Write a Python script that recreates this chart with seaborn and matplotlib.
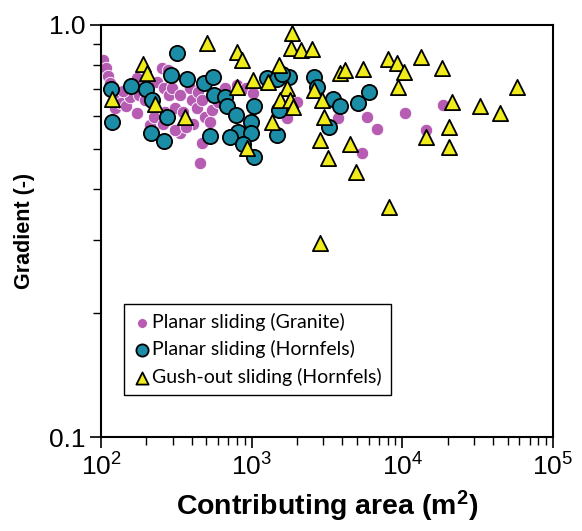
"""
Gradient vs contributing area for planar and gush-out slides (log-log scatter).
"""

import numpy as np
import pandas as pd
import matplotlib
matplotlib.use("Agg")
import matplotlib.pyplot as plt
import seaborn as sns
from matplotlib.ticker import LogLocator, NullFormatter, FixedLocator, FixedFormatter

# Planar sliding (Granite)
granite_area = [103, 108, 111, 115, 128, 124, 136, 146, 156, 173, 179, 173, 202, 211,
                225, 236, 254, 262, 283, 266, 258, 278, 296, 336, 310, 350, 336, 310,
                390, 402, 433, 440, 468, 490, 529, 545, 598, 468, 454, 664, 799, 917,
                1019, 408, 366, 1998, 1715, 3741, 5829, 6789, 10410, 18610, 14350, 5396,
                140, 196]
granite_grad = [0.822, 0.787, 0.752, 0.723, 0.676, 0.629, 0.647, 0.636, 0.668, 0.743, 0.676,
                0.612, 0.715, 0.572, 0.598, 0.727, 0.787, 0.703, 0.676, 0.615, 0.575, 0.778,
                0.703, 0.676, 0.629, 0.615, 0.547, 0.556, 0.703, 0.658, 0.629, 0.687, 0.658,
                0.598, 0.581, 0.622, 0.651, 0.518, 0.462, 0.703, 0.715, 0.703, 0.684, 0.575,
                0.565, 0.651, 0.594, 0.594, 0.598, 0.560, 0.612, 0.640, 0.556, 0.489,
                0.690, 0.658]

# Planar sliding (Hornfels)
hornfels_area = [320, 116, 118, 158, 199, 218, 274, 215, 262, 291, 372, 482, 554, 563, 664,
                 685, 787, 1035, 989, 811, 718, 989, 529, 875, 1035, 1263, 1472, 1768, 1517,
                 1472, 2592, 2713, 3259, 3464, 3855, 5076, 6006, 1589]
hornfels_grad = [0.856, 0.699, 0.581, 0.711, 0.699, 0.658, 0.598, 0.547, 0.523, 0.756, 0.739,
                 0.723, 0.748, 0.676, 0.668, 0.636, 0.605, 0.636, 0.581, 0.550, 0.535, 0.547,
                 0.538, 0.514, 0.478, 0.743, 0.739, 0.748, 0.622, 0.541, 0.748, 0.707, 0.565,
                 0.662, 0.636, 0.647, 0.687, 0.760]

# Gush-out sliding (Hornfels)
gush_area = [505, 799, 862, 190, 202, 119, 228, 360, 1019, 1282, 1517, 1851, 1823, 2124,
             2513, 1715, 1541, 1795, 1879, 1364, 799, 931, 2592, 2928, 3018, 2840, 3210,
             3855, 4162, 5478, 8029, 9211, 10250, 13290, 18330, 9353, 21340, 32740, 44490,
             57620, 20330, 14350, 20330, 4492, 4923, 8153, 2840]
gush_grad = [0.905, 0.860, 0.822, 0.804, 0.764, 0.662, 0.644, 0.598, 0.735, 0.727, 0.800,
             0.956, 0.879, 0.870, 0.874, 0.703, 0.658, 0.658, 0.633, 0.581, 0.707, 0.503,
             0.695, 0.658, 0.598, 0.526, 0.475, 0.764, 0.778, 0.782, 0.827, 0.809, 0.769,
             0.837, 0.787, 0.707, 0.651, 0.636, 0.612, 0.707, 0.565, 0.535, 0.506, 0.514,
             0.440, 0.362, 0.296]

x_ticks = [1e2, 1e3, 1e4, 1e5]
y_ticks = [0.1, 1.0]
y_tick_labels = ["0.1", "1.0"]

sns.set_style("ticks")
plt.rcParams["font.family"] = ["Liberation Sans", "DejaVu Sans"]
plt.rcParams["mathtext.fontset"] = "custom"
plt.rcParams["mathtext.rm"] = "Liberation Sans"
plt.rcParams["mathtext.it"] = "Liberation Sans:italic"
plt.rcParams["mathtext.bf"] = "Liberation Sans:bold"
for key in ["text.color", "axes.labelcolor", "xtick.color", "ytick.color"]:
    plt.rcParams[key] = "black"

df_g = pd.DataFrame({"area": granite_area, "grad": granite_grad})
df_h = pd.DataFrame({"area": hornfels_area, "grad": hornfels_grad})
df_y = pd.DataFrame({"area": gush_area, "grad": gush_grad})

fig = plt.figure(figsize=(5.82, 5.31), dpi=100)
ax = fig.add_axes([0.1735, 0.177, 0.7765, 0.776])

sns.scatterplot(data=df_g, x="area", y="grad", ax=ax, color="#B65DB3", s=80,
                edgecolor="white", linewidth=0.6, marker="o", zorder=2,
                label="Planar sliding (Granite)")
sns.scatterplot(data=df_h, x="area", y="grad", ax=ax, color="#1B8DA6", s=120,
                edgecolor="black", linewidth=1.3, marker="o", zorder=3,
                label="Planar sliding (Hornfels)")
sns.scatterplot(data=df_y, x="area", y="grad", ax=ax, color="#F0EC1C", s=120,
                edgecolor="black", linewidth=1.3, marker="^", zorder=4,
                label="Gush-out sliding (Hornfels)")

ax.set_xscale("log")
ax.set_yscale("log")
ax.set_xlim(1e2, 1e5)
ax.set_ylim(0.1, 1.0)

ax.xaxis.set_major_locator(FixedLocator(x_ticks))
ax.xaxis.set_minor_locator(LogLocator(base=10, subs=np.arange(2, 10)))
ax.xaxis.set_minor_formatter(NullFormatter())
ax.yaxis.set_major_locator(FixedLocator(y_ticks))
ax.yaxis.set_major_formatter(FixedFormatter(y_tick_labels))
ax.yaxis.set_minor_locator(LogLocator(base=10, subs=np.arange(2, 10)))
ax.yaxis.set_minor_formatter(NullFormatter())

ax.tick_params(which="major", direction="out", length=8, width=1.2, labelsize=19,
               colors="black")
ax.tick_params(which="minor", direction="out", length=6, width=1.0, colors="black")
for sp in ax.spines.values():
    sp.set_color("black")
    sp.set_linewidth(1.5)
    sp.set_visible(True)

ax.set_xlabel("Contributing area (m$^\\mathbf{2}$)", fontsize=20.5, fontweight="bold",
              labelpad=6, color="black")
ax.set_ylabel("Gradient (-)", fontsize=15.5, fontweight="bold", labelpad=10,
              color="black")

leg = ax.legend(loc="lower left", bbox_to_anchor=(0.051, 0.102), frameon=True,
                fancybox=False, edgecolor="black", framealpha=1, markerscale=0.8,
                handletextpad=0.1, handlelength=0.9, borderpad=0.45, labelspacing=0.5,
                borderaxespad=0, prop={"family": "Lato", "size": 14})
leg.get_frame().set_linewidth(1.0)
for t in leg.get_texts():
    t.set_color("black")

fig.savefig("out.png", dpi=100)
